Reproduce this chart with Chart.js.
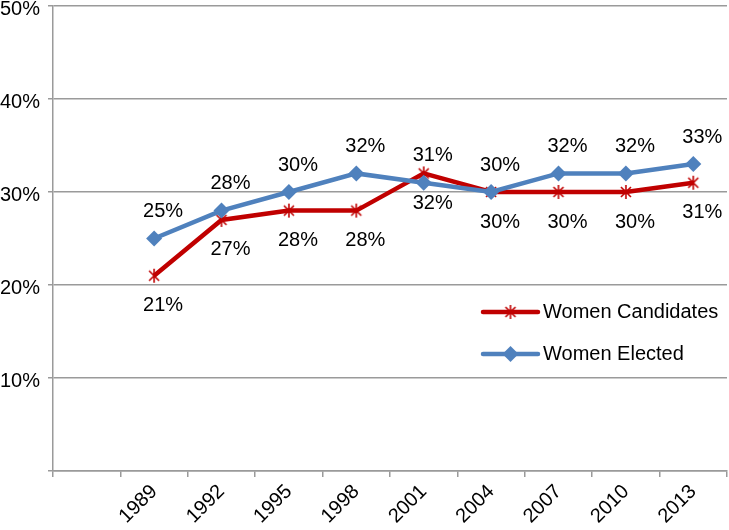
<!DOCTYPE html>
<html>
<head>
<meta charset="utf-8">
<script src="https://cdn.jsdelivr.net/npm/chart.js@4.4.0/dist/chart.umd.min.js"></script>
<style>
  html, body { margin: 0; padding: 0; background: #fff; }
  #wrap { width: 729px; height: 530px; }
</style>
</head>
<body>
<div id="wrap"><canvas id="myChart" width="729" height="530"></canvas></div>
<script>
// DATA
const years = ["1989", "1992", "1995", "1998", "2001", "2004", "2007", "2010", "2013"];
const womenCandidates = [21, 27, 28, 28, 32, 30, 30, 30, 31];
const womenElected = [25, 28, 30, 32, 31, 30, 32, 32, 33];
const yTicks = [0, 10, 20, 30, 40, 50];

const RED = "#c00000";
const BLUE = "#4f81bd";
const GREY = "#9a9a9a";
const FONT = "Liberation Sans, Arial, sans-serif";

// excel style star marker (x + vertical bar)
function makeStar() {
  let c = document.createElement("canvas");
  c.width = 16;
  c.height = 16;
  let g = c.getContext("2d");
  g.strokeStyle = RED;
  g.lineWidth = 1.6;
  g.beginPath();
  g.moveTo(3, 3); g.lineTo(13, 13);
  g.moveTo(13, 3); g.lineTo(3, 13);
  g.moveTo(8, 1); g.lineTo(8, 15);
  g.stroke();
  return c;
}
const starMarker = makeStar();

// value labels, elected above / candidates below
const valueLabels = {
  id: "valueLabels",
  afterDatasetsDraw(chart) {
    const ctx = chart.ctx;
    ctx.save();
    ctx.font = "20px " + FONT;
    ctx.fillStyle = "#000";
    ctx.textAlign = "center";
    ctx.textBaseline = "middle";
    chart.data.datasets.forEach((ds, i) => {
      const meta = chart.getDatasetMeta(i);
      meta.data.forEach((pt, j) => {
        if (ds.data[j] == null) return;
        const dy = ds.labelPos === "above" ? -27 : 30;
        ctx.fillText(ds.data[j] + "%", pt.x + 9, pt.y + dy);
      });
    });
    ctx.restore();
  },
};

// legend inside the plot
const innerLegend = {
  id: "innerLegend",
  afterDraw(chart) {
    const ctx = chart.ctx;
    const x0 = 483, x1 = 538;
    const rows = [312, 354];
    ctx.save();
    chart.data.datasets.forEach((ds, i) => {
      const y = rows[i];
      ctx.strokeStyle = ds.borderColor;
      ctx.lineWidth = 4.5;
      ctx.lineCap = "round";
      ctx.beginPath();
      ctx.moveTo(x0, y);
      ctx.lineTo(x1, y);
      ctx.stroke();
      const mx = (x0 + x1) / 2;
      if (ds.pointStyle === "rectRot") {
        ctx.fillStyle = ds.backgroundColor;
        ctx.beginPath();
        ctx.moveTo(mx, y - 8);
        ctx.lineTo(mx + 8, y);
        ctx.lineTo(mx, y + 8);
        ctx.lineTo(mx - 8, y);
        ctx.closePath();
        ctx.fill();
      } else {
        ctx.drawImage(starMarker, mx - 8, y - 8);
      }
      ctx.fillStyle = "#000";
      ctx.font = "20px " + FONT;
      ctx.textAlign = "left";
      ctx.textBaseline = "middle";
      ctx.fillText(ds.label, 543, y);
    });
    ctx.restore();
  },
};

const ctx = document.getElementById("myChart");
chart = new Chart(ctx, {
  type: "line",
  data: {
    labels: [""].concat(years),
    datasets: [
      {
        label: "Women Candidates",
        data: [null].concat(womenCandidates),
        borderColor: RED,
        backgroundColor: RED,
        borderWidth: 4.5,
        pointStyle: starMarker,
        pointRadius: 7,
        labelPos: "below",
        order: 1,
      },
      {
        label: "Women Elected",
        data: [null].concat(womenElected),
        borderColor: BLUE,
        backgroundColor: BLUE,
        borderWidth: 4.5,
        pointStyle: "rectRot",
        pointRadius: 8,
        pointBorderWidth: 0,
        labelPos: "above",
        order: 0,
      },
    ],
  },
  options: {
    responsive: false,
    animation: false,
    layout: { autoPadding: false, padding: { top: 6, right: 2, left: 0, bottom: 0 } },
    plugins: {
      legend: { display: false },
      tooltip: { enabled: false },
    },
    scales: {
      x: {
        offset: true,
        grid: {
          offset: true,
          drawOnChartArea: false,
          drawTicks: true,
          tickLength: 6,
          color: GREY,
          lineWidth: 1.5,
        },
        border: { color: GREY, width: 1.5 },
        ticks: {
          minRotation: 45,
          maxRotation: 45,
          autoSkip: false,
          color: "#000",
          padding: 3,
          font: { family: FONT, size: 20 },
        },
        afterFit: function (s) {
          s.height = 59;
          s.paddingLeft = 0;
          s.paddingRight = 0;
        },
      },
      y: {
        min: 0,
        max: 50,
        afterBuildTicks: function (s) {
          s.ticks = yTicks.map((v) => ({ value: v }));
        },
        grid: {
          color: GREY,
          lineWidth: 1.5,
          tickLength: 5,
        },
        border: { color: GREY, width: 1.5 },
        ticks: {
          color: "#000",
          padding: 8,
          labelOffset: 3,
          font: { family: FONT, size: 20 },
          callback: function (v) {
            return v === 0 ? "" : v + "%";
          },
        },
        afterFit: function (s) {
          s.width = 53;
          s.paddingTop = 0;
          s.paddingBottom = 0;
        },
      },
    },
  },
  plugins: [valueLabels, innerLegend],
});
</script>
</body>
</html>
